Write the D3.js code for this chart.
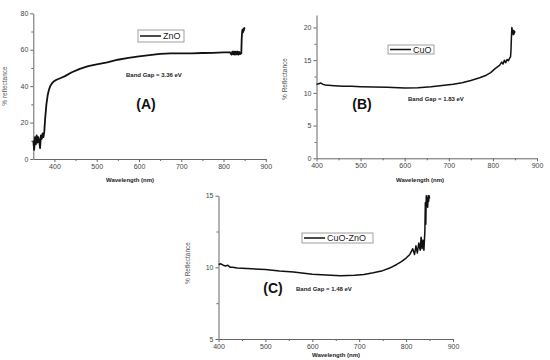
<!DOCTYPE html>
<html>
<head>
<meta charset="utf-8">
<script src="https://cdn.jsdelivr.net/npm/d3@7"></script>
<style>
  body { margin: 0; background: #fff; }
  svg { display: block; }
  .tick text { font-family: Arial, "Liberation Sans", sans-serif; font-size: 7px; fill: #444; }
  .axis path, .axis line { stroke: #666; }
  .ylab { font-family: Arial, "Liberation Sans", sans-serif; font-size: 6.5px; fill: #555; }
  .xlab, .gap { font-family: "Liberation Sans Narrow", Arial, sans-serif; font-size: 6px; font-weight: bold; fill: #222; }
  .tag { font-family: Arial, "Liberation Sans", sans-serif; font-size: 14px; font-weight: bold; fill: #111; }
  .leg { font-family: Arial, "Liberation Sans", sans-serif; font-size: 9px; fill: #222; }
</style>
</head>
<body>
<svg id="chart" width="550" height="360"></svg>
<script>
// ZnO spectrum
const ZNO_WL = [350, 352, 354, 356, 358, 360, 362, 364, 366, 368, 370, 372, 374, 376, 378, 381, 384, 387, 390, 394, 398, 405, 415, 425, 440, 460, 480, 500, 525, 550, 575, 600, 625, 650, 675, 700, 725, 750, 775, 800, 815, 819, 821, 823, 825, 827, 829, 831, 833, 835, 837, 839, 841, 842, 843, 844, 845, 846, 847, 848, 849, 850];
const ZNO_R = [10, 5, 12, 8, 13, 9, 12, 10, 6, 13, 11, 14, 12, 15, 22, 30, 35, 38, 40, 41.5, 42.5, 43.5, 44.5, 45.5, 47.5, 49.5, 51, 52, 53, 54.5, 55.5, 56.3, 57, 57.7, 58, 58, 58, 58.2, 58.3, 58.5, 58.6, 57.3, 59, 57.5, 59, 57.3, 59, 57.5, 59, 57.3, 58.8, 57.6, 58.2, 58, 66, 70, 71, 69.5, 71.5, 70.5, 72, 71.5];

// CuO spectrum, panel (B)
const CUO_WL = [400, 405, 410, 415, 420, 440, 460, 480, 500, 530, 560, 600, 630, 660, 690, 710, 730, 750, 770, 785, 795, 805, 815, 820, 823, 826, 829, 832, 835, 838, 840, 841, 842, 843, 844, 845, 846, 847, 848, 849, 850];
const CUO_R = [11.3, 11.4, 11.5, 11.3, 11.2, 11.1, 11.0, 11.0, 10.95, 10.9, 10.85, 10.75, 10.8, 10.95, 11.15, 11.3, 11.55, 11.9, 12.3, 12.7, 13.1, 13.7, 14.2, 14.7, 14.4, 15.0, 14.6, 15.1, 14.9, 15.3, 15.5, 16.5, 18.5, 20.0, 19.2, 19.6, 18.9, 19.5, 19.0, 19.4, 19.2];

// CuO-ZnO spectrum, panel (C)
const MIX_WL = [400, 405, 410, 415, 420, 425, 430, 440, 450, 470, 500, 530, 560, 600, 630, 660, 690, 710, 730, 750, 765, 780, 790, 800, 808, 814, 818, 821, 824, 827, 830, 832, 834, 836, 838, 840, 841, 842, 843, 844, 845, 846, 847, 848, 849, 850];
const MIX_R = [10.2, 10.25, 10.15, 10.1, 10.15, 10.0, 10.0, 9.95, 9.93, 9.9, 9.85, 9.75, 9.68, 9.52, 9.46, 9.42, 9.45, 9.5, 9.62, 9.77, 9.95, 10.2, 10.4, 10.65, 10.9, 11.3, 10.9, 11.5, 11.0, 11.7, 11.2, 12.1, 11.3, 11.9, 11.2, 12.5, 14.5, 13.0, 15.0, 14.3, 14.8, 14.2, 15.0, 14.6, 15.0, 14.8];

const X_TICKS_A = [400, 500, 600, 700, 800, 900];
const X_TICKS = [400, 500, 600, 700, 800, 900];
const Y_TICKS_A = [0, 20, 40, 60, 80];
const Y_TICKS_B = [0, 5, 10, 15, 20];
const Y_TICKS_C = [5, 10, 15];

const svg = d3.select("#chart");

const panels = [
  {
    wl: ZNO_WL, r: ZNO_R, xDomain: [350, 900], yDomain: [0, 80],
    xRange: [33.3, 265.8], yRange: [159, 13.3],
    xTicks: X_TICKS_A, yTicks: Y_TICKS_A, minorX: [450, 550, 650, 750, 850], minorY: [10, 30, 50, 70],
    yLabel: "% reflectance", yLabelPos: [7, 86],
    xLabelPos: [130, 182],
    legend: "ZnO", legBox: [138, 30, 46, 12],
    gap: "Band Gap = 3.36 eV", gapPos: [126, 77],
    tag: "(A)", tagPos: [146, 109], lw: 1.8
  },
  {
    wl: CUO_WL, r: CUO_R, xDomain: [400, 900], yDomain: [0, 21.9],
    xRange: [316.5, 537], yRange: [158.3, 15],
    xTicks: X_TICKS, yTicks: Y_TICKS_B, minorX: [450, 550, 650, 750, 850], minorY: [2.5, 7.5, 12.5, 17.5],
    yLabel: "% Reflectance", yLabelPos: [287, 79],
    xLabelPos: [420, 182],
    legend: "CuO", legBox: [388, 45, 46, 9],
    gap: "Band Gap = 1.83 eV", gapPos: [408, 101],
    tag: "(B)", tagPos: [362, 109], lw: 1.5
  },
  {
    wl: MIX_WL, r: MIX_R, xDomain: [400, 900], yDomain: [5, 15],
    xRange: [218.5, 453], yRange: [339, 195.7],
    xTicks: X_TICKS, yTicks: Y_TICKS_C, minorX: [450, 550, 650, 750, 850], minorY: [7.5, 12.5],
    yLabel: "% Reflectance", yLabelPos: [190, 263],
    xLabelPos: [336, 357],
    legend: "CuO-ZnO", legBox: [302, 233, 71, 10],
    gap: "Band Gap = 1.48 eV", gapPos: [296, 291],
    tag: "(C)", tagPos: [273, 293], lw: 1.5
  }
];

panels.forEach((p) => {
  const x = d3.scaleLinear().domain(p.xDomain).range(p.xRange);
  const y = d3.scaleLinear().domain(p.yDomain).range(p.yRange);
  const g = svg.append("g");

  // minor ticks first, then the labelled axis on top
  g.append("g")
    .attr("class", "axis")
    .attr("transform", `translate(0,${p.yRange[0]})`)
    .call(d3.axisBottom(x).tickValues(p.minorX).tickSize(2).tickFormat(""))
    .call((a) => a.select(".domain").remove());
  g.append("g")
    .attr("class", "axis")
    .attr("transform", `translate(${p.xRange[0]},0)`)
    .call(d3.axisLeft(y).tickValues(p.minorY).tickSize(2).tickFormat(""))
    .call((a) => a.select(".domain").remove());

  g.append("g")
    .attr("class", "axis")
    .attr("transform", `translate(0,${p.yRange[0]})`)
    .call(d3.axisBottom(x).tickValues(p.xTicks).tickSize(3).tickSizeOuter(0).tickPadding(2));
  g.append("g")
    .attr("class", "axis")
    .attr("transform", `translate(${p.xRange[0]},0)`)
    .call(d3.axisLeft(y).tickValues(p.yTicks).tickSize(3).tickSizeOuter(0).tickPadding(2));

  const pts = p.wl.map((w, i) => [w, p.r[i]]);
  g.append("path")
    .datum(pts)
    .attr("fill", "none")
    .attr("stroke", "#111")
    .attr("stroke-width", p.lw)
    .attr("stroke-linejoin", "round")
    .attr("d", d3.line().x((d) => x(d[0])).y((d) => y(d[1])));

  g.append("text")
    .attr("class", "ylab")
    .attr("text-anchor", "middle")
    .attr("transform", `translate(${p.yLabelPos[0]},${p.yLabelPos[1]}) rotate(-90)`)
    .text(p.yLabel);

  g.append("text")
    .attr("class", "xlab")
    .attr("text-anchor", "middle")
    .attr("x", p.xLabelPos[0])
    .attr("y", p.xLabelPos[1])
    .text("Wavelength (nm)");

  const [bx, by, bw, bh] = p.legBox;
  g.append("rect")
    .attr("x", bx).attr("y", by).attr("width", bw).attr("height", bh)
    .attr("fill", "#fff").attr("stroke", "#888").attr("stroke-width", 0.8);
  g.append("line")
    .attr("x1", bx + 2).attr("x2", bx + 23)
    .attr("y1", by + bh / 2).attr("y2", by + bh / 2)
    .attr("stroke", "#111").attr("stroke-width", 1.5);
  g.append("text")
    .attr("class", "leg")
    .attr("x", bx + 25)
    .attr("y", by + bh / 2 + 3.2)
    .text(p.legend);

  g.append("text")
    .attr("class", "gap")
    .attr("x", p.gapPos[0])
    .attr("y", p.gapPos[1])
    .text(p.gap);

  g.append("text")
    .attr("class", "tag")
    .attr("text-anchor", "middle")
    .attr("x", p.tagPos[0])
    .attr("y", p.tagPos[1])
    .text(p.tag);
});
</script>
</body>
</html>
